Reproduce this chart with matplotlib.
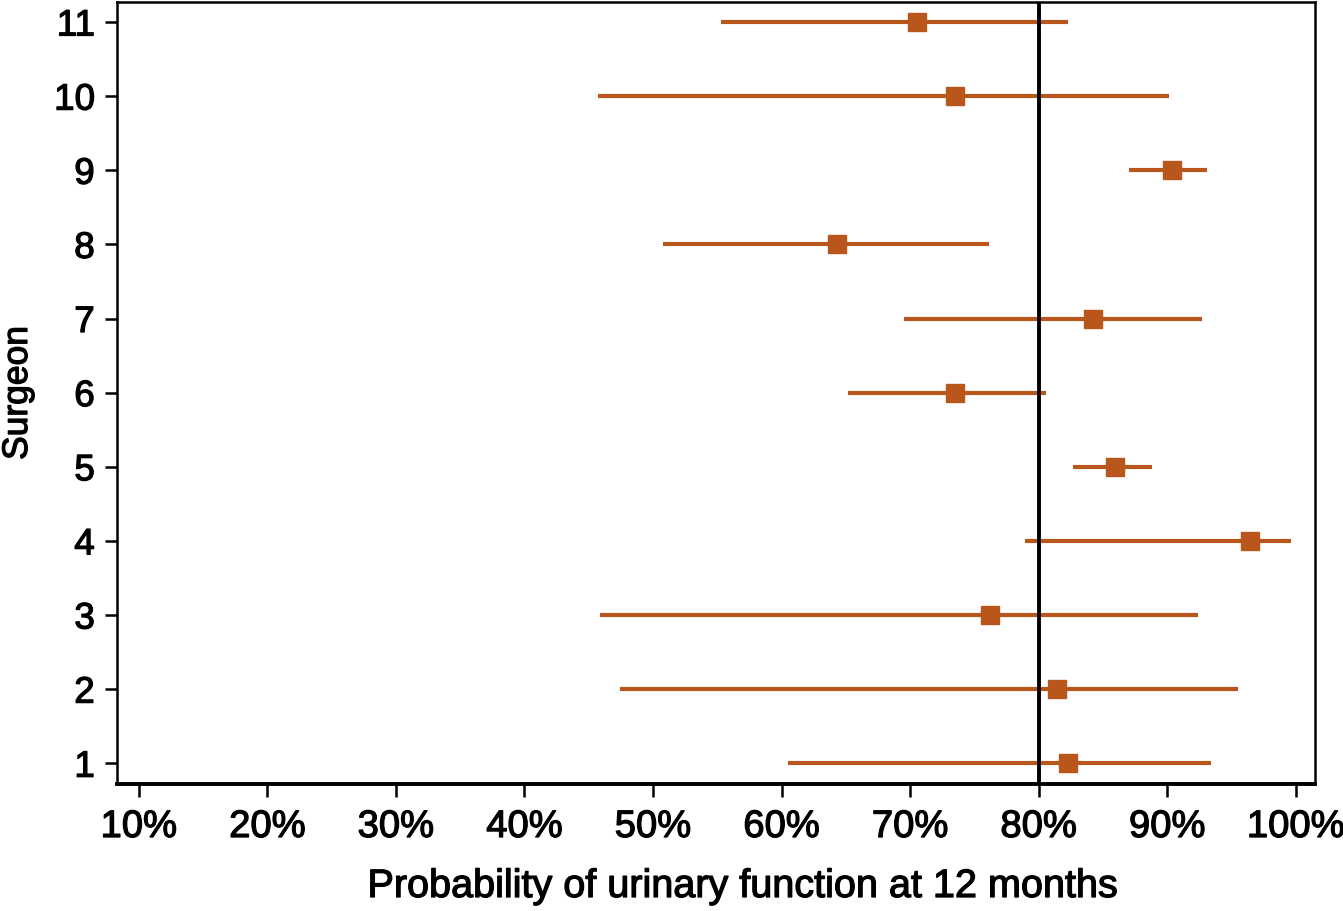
import matplotlib
matplotlib.use('Agg')
import matplotlib.pyplot as plt
import matplotlib.patheffects as pe
from matplotlib.ticker import FuncFormatter

plt.rcParams['font.family'] = ['Liberation Sans', 'DejaVu Sans']

surgeons = [1, 2, 3, 4, 5, 6, 7, 8, 9, 10, 11]
est = [82.3, 81.4, 76.2, 96.4, 85.9, 73.5, 84.2, 64.3, 90.4, 73.5, 70.5]
lower = [60.5, 47.4, 45.9, 78.9, 82.7, 65.2, 69.5, 50.8, 87.0, 45.7, 55.3]
upper = [93.4, 95.5, 92.4, 99.6, 88.8, 80.6, 92.7, 76.1, 93.1, 90.1, 82.3]
xticks = [10, 20, 30, 40, 50, 60, 70, 80, 90, 100]
ref_line = 80

col = '#B8561C'
thick = [pe.withStroke(linewidth=0.9, foreground='black')]

fig = plt.figure(figsize=(13.43, 9.11), dpi=100)
ax = fig.add_axes([0.0871, 0.1394, 0.9792 - 0.0871, 0.9978 - 0.1394])

ax.hlines(surgeons, lower, upper, color=col, linewidth=3, zorder=2)
ax.plot(est, surgeons, 's', color=col, markersize=13, zorder=3)
ax.axvline(ref_line, color='black', linewidth=2.8, zorder=4)

ax.set_xlim(8.3, 101.5)
ax.set_ylim(0.72, 11.27)
ax.set_xticks(xticks)
ax.xaxis.set_major_formatter(FuncFormatter(lambda v, p: '%d%%' % v))
ax.set_yticks(surgeons)

ax.tick_params(axis='y', direction='out', length=9, width=1.8, labelsize=26.5, pad=7)
ax.tick_params(axis='x', direction='out', length=9, width=1.8, labelsize=27.5, pad=9)

for s in ['left', 'top', 'right']:
    ax.spines[s].set_linewidth(1.8)
ax.spines['bottom'].set_linewidth(2.8)

ax.set_xlabel('Probability of urinary function at 12 months', fontsize=28.5, va='baseline')
ax.xaxis.set_label_coords(0.5225, -0.1445)
ax.set_ylabel('Surgeon', fontsize=25.5, labelpad=14.5)

for t in ax.get_xticklabels() + ax.get_yticklabels() + [ax.xaxis.label, ax.yaxis.label]:
    t.set_path_effects(thick)

fig.savefig('out.png', dpi=100)
